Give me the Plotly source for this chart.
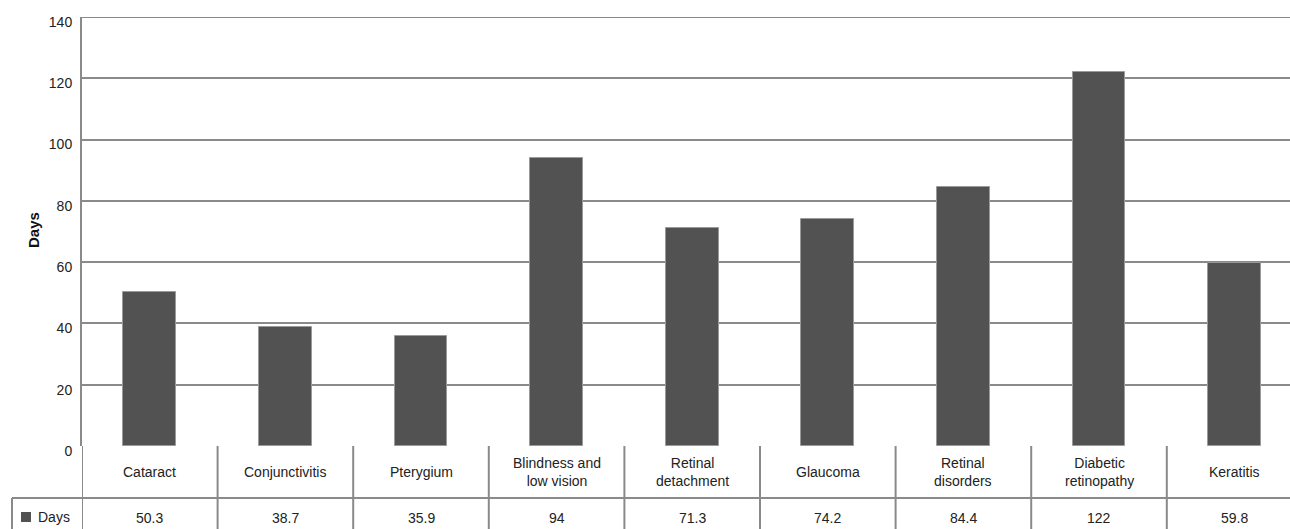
import plotly.graph_objects as go

# Average days per eye condition
categories = [
    "Cataract", "Conjunctivitis", "Pterygium", "Blindness and<br>low vision",
    "Retinal<br>detachment", "Glaucoma", "Retinal<br>disorders",
    "Diabetic<br>retinopathy", "Keratitis",
]
value_labels = ["50.3", "38.7", "35.9", "94", "71.3", "74.2", "84.4", "122", "59.8"]
days = [50.3, 38.7, 35.9, 94, 71.3, 74.2, 84.4, 122, 59.8]
y_ticks = [0, 20, 40, 60, 80, 100, 120, 140]
series_name = "Days"

W, H = 1290, 529
M_L, M_R, M_T, M_B = 82, 0, 17, 83
plot_w = W - M_L - M_R
plot_h = H - M_T - M_B

FONT = "Liberation Sans, Arial, sans-serif"
LINE = "#8a8a8a"
BAR = "#525252"
TXT = "#222222"

n = len(categories)
col_px = 135.6
x_max = plot_w / col_px - 0.5


def py(pix):
    """Pixel row (from top of page) -> paper y."""
    return (H - M_B - pix) / plot_h


def px(pix):
    """Pixel column (from left of page) -> paper x."""
    return (pix - M_L) / plot_w


fig = go.Figure()
fig.add_trace(go.Bar(
    x=list(range(n)), y=days, name=series_name,
    marker=dict(color=BAR, line=dict(color="#9a9a9a", width=1)),
    width=0.39, showlegend=False, hoverinfo="y",
))

shapes = []
row_mid, row_bot = 498, 540
# top border of plot area
shapes.append(dict(type="line", xref="paper", yref="y", x0=0, x1=1, y0=140, y1=140,
                   line=dict(color=LINE, width=2)))
# line between category row and value row
shapes.append(dict(type="line", xref="paper", yref="paper",
                   x0=px(12), x1=1.0, y0=py(row_mid), y1=py(row_mid),
                   line=dict(color=LINE, width=2)))
# left border of legend cell
shapes.append(dict(type="line", xref="paper", yref="paper",
                   x0=px(12), x1=px(12), y0=py(row_mid), y1=py(row_bot),
                   line=dict(color=LINE, width=2)))
# left axis continued through the table
shapes.append(dict(type="line", xref="x", yref="paper",
                   x0=-0.5, x1=-0.5, y0=0, y1=py(row_bot),
                   line=dict(color=LINE, width=2)))
# column separators
for i in range(n - 1):
    shapes.append(dict(type="line", xref="x", yref="paper",
                       x0=i + 0.5, x1=i + 0.5, y0=0, y1=py(row_bot),
                       line=dict(color=LINE, width=2)))
# legend key square
shapes.append(dict(type="rect", xref="paper", yref="paper",
                   x0=px(21), x1=px(31), y0=py(522), y1=py(512),
                   fillcolor=BAR, line=dict(width=0)))

annotations = []
for i in range(n):
    annotations.append(dict(x=i, y=py(472), xref="x", yref="paper",
                            text=categories[i], showarrow=False,
                            font=dict(family=FONT, size=14, color=TXT),
                            xanchor="center", yanchor="middle"))
    annotations.append(dict(x=i, y=py(518), xref="x", yref="paper",
                            text=value_labels[i], showarrow=False,
                            font=dict(family=FONT, size=14, color=TXT),
                            xanchor="center", yanchor="middle"))
annotations.append(dict(x=px(36), y=py(517), xref="paper", yref="paper",
                        text=series_name, showarrow=False,
                        font=dict(family=FONT, size=14, color=TXT),
                        xanchor="left", yanchor="middle"))
# y-axis title
annotations.append(dict(x=px(34), y=py(230), xref="paper", yref="paper",
                        text="<b>Days</b>", showarrow=False, textangle=-90,
                        font=dict(family=FONT, size=15, color="#111"),
                        xanchor="center", yanchor="middle"))

fig.update_layout(
    width=W, height=H,
    margin=dict(l=M_L, r=M_R, t=M_T, b=M_B, pad=0),
    paper_bgcolor="white", plot_bgcolor="white",
    shapes=shapes, annotations=annotations,
    bargap=0,
    xaxis=dict(range=[-0.5, x_max], showticklabels=False, showgrid=False,
               zeroline=False, showline=False, ticks=""),
    yaxis=dict(range=[0, 140], tickvals=y_ticks, showgrid=True,
               gridcolor=LINE, gridwidth=2, zeroline=False,
               showline=True, linecolor=LINE, linewidth=2,
               ticks="", ticklabelstandoff=5, ticklabelshift=5,
               tickfont=dict(family=FONT, size=14, color=TXT)),
)

fig.write_html("out.html")
